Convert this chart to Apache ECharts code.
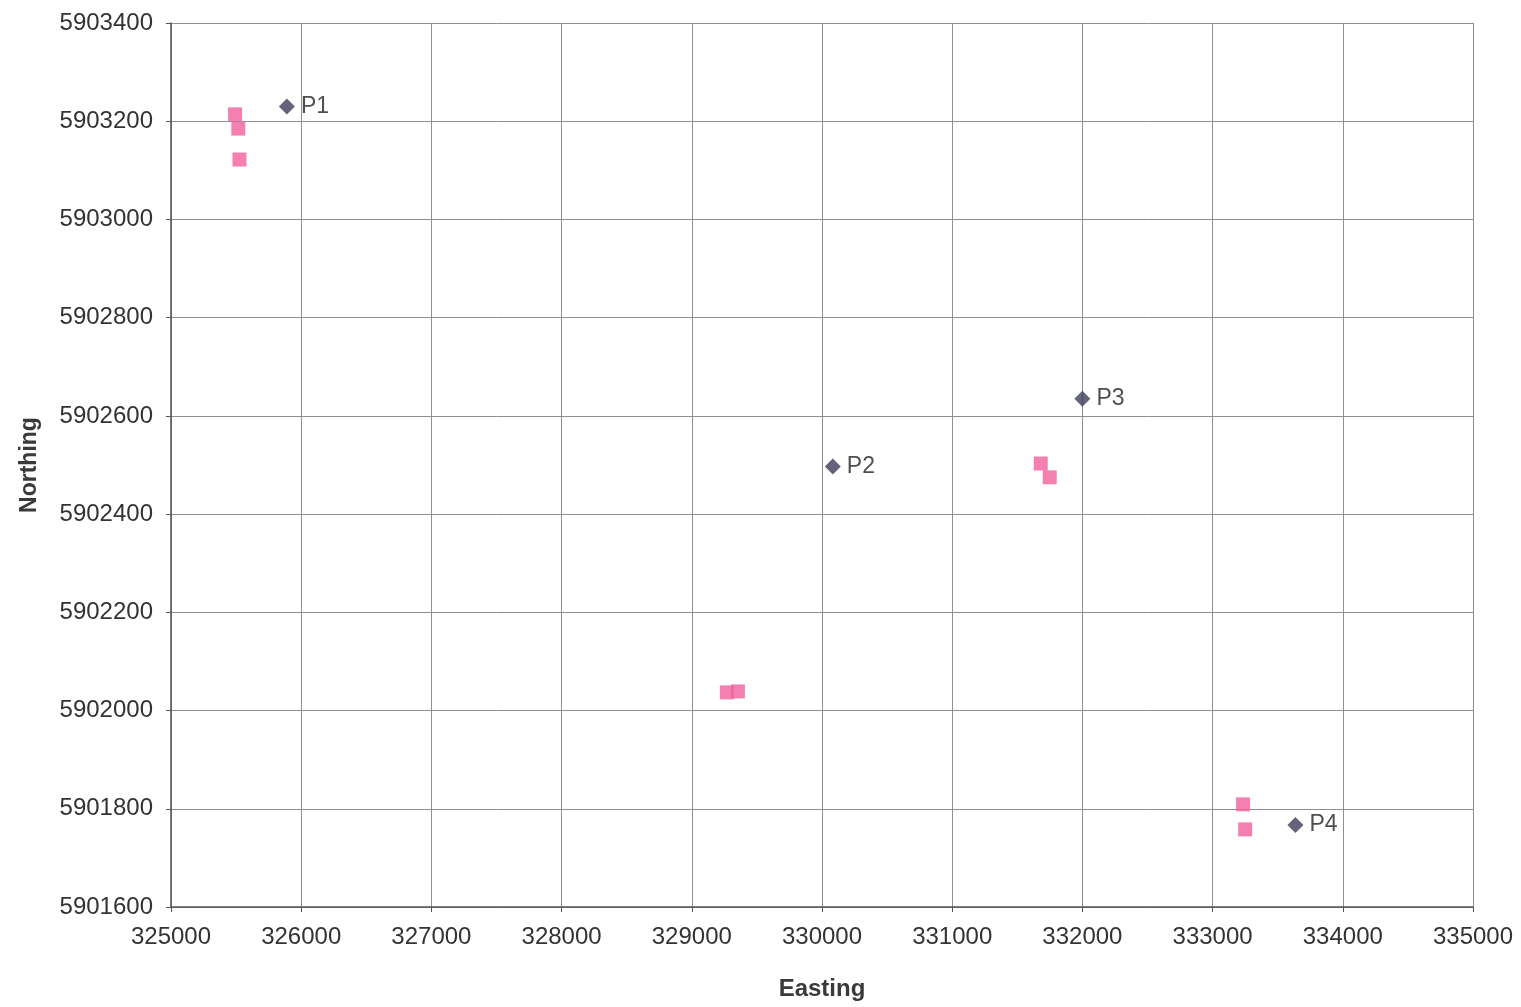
<!DOCTYPE html>
<html><head><meta charset="utf-8">
<script src="https://cdn.jsdelivr.net/npm/echarts@6/dist/echarts.min.js"></script>
<style>html,body{margin:0;padding:0;background:#fff}#c{width:1521px;height:1007px}</style>
</head><body><div id="c"></div>
<script>
// Named points (diamonds)
const pointNames = ['P1', 'P2', 'P3', 'P4'];
const pointEasting = [325890, 330083, 332000, 333636];
const pointNorthing = [5903230, 5902497, 5902635, 5901767];
// Measured positions (squares)
const measEasting = [325492, 325517, 325526, 329269, 329354, 331680, 331749, 333234, 333250];
const measNorthing = [5903214, 5903185, 5903122, 5902037, 5902039, 5902503, 5902475, 5901809, 5901758];
// Axes
const xMin = 325000, xMax = 335000, xStep = 1000;
const yMin = 5901600, yMax = 5903400, yStep = 200;

const chart = echarts.init(document.getElementById('c'));
const font = 'Liberation Sans, Arial, sans-serif';
chart.setOption({
  animation: false,
  backgroundColor: '#ffffff',
  grid: { left: 171, top: 23, right: 48, bottom: 100, containLabel: false },
  xAxis: {
    type: 'value', min: xMin, max: xMax, interval: xStep,
    name: 'Easting', nameLocation: 'middle', nameGap: 70,
    nameTextStyle: { fontFamily: font, fontSize: 24, fontWeight: 'bold', color: '#3a3a3a' },
    axisLine: { show: true, onZero: false, lineStyle: { color: '#555', width: 1.5 } },
    axisTick: { show: true, length: 5, lineStyle: { color: '#555' } },
    axisLabel: { fontFamily: font, fontSize: 24, color: '#333', margin: 18, formatter: v => String(v) },
    splitLine: { show: true, lineStyle: { color: '#8f8f8f', width: 1 } }
  },
  yAxis: {
    type: 'value', min: yMin, max: yMax, interval: yStep,
    name: 'Northing', nameLocation: 'middle', nameGap: 130,
    nameTextStyle: { fontFamily: font, fontSize: 23, fontWeight: 'bold', color: '#3a3a3a' },
    axisLine: { show: true, onZero: false, lineStyle: { color: '#555', width: 1.5 } },
    axisTick: { show: true, length: 5, lineStyle: { color: '#555' } },
    axisLabel: { fontFamily: font, fontSize: 24, color: '#333', margin: 18, formatter: v => String(v) },
    splitLine: { show: true, lineStyle: { color: '#8f8f8f', width: 1 } }
  },
  series: [
    {
      type: 'scatter', symbol: 'rect', symbolSize: 14,
      itemStyle: { color: '#f0609c' },
      data: measEasting.map((e, i) => [e, measNorthing[i]]),
      z: 2
    },
    {
      type: 'scatter', symbol: 'diamond', symbolSize: [16, 16],
      itemStyle: { color: '#3c3c58' },
      data: pointEasting.map((e, i) => ({ value: [e, pointNorthing[i]], name: pointNames[i] })),
      label: {
        show: true, position: 'right', distance: 6,
        formatter: p => p.name,
        fontFamily: font, fontSize: 23, color: '#222'
      },
      z: 3
    }
  ]
});
</script></body></html>
